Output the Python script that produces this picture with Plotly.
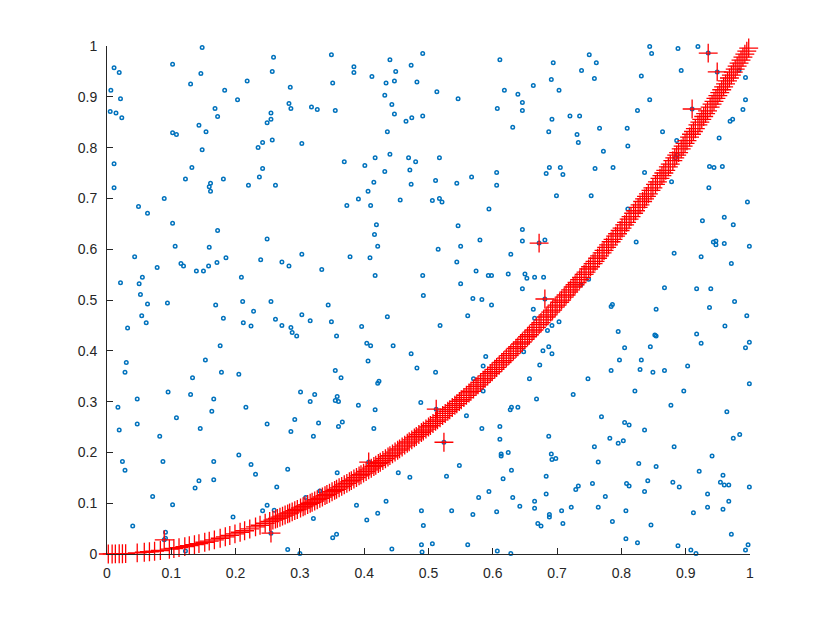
import plotly.graph_objects as go

# Blue scattered points (x, y)
blue_xy = [
(0.148,0.997),(0.011,0.957),(0.019,0.948),(0.102,0.964),(0.146,0.946),(0.130,0.925),(0.218,0.931),(0.006,0.913),(0.183,0.913),(0.021,0.896),(0.203,0.894),(0.005,0.871),(0.014,0.868),(0.023,0.859),(0.168,0.877),(0.172,0.861),(0.143,0.844),(0.154,0.831),(0.102,0.829),(0.108,0.826),(0.148,0.796),(0.235,0.800),(0.242,0.810),(0.011,0.768),(0.132,0.761),(0.122,0.738),(0.181,0.738),(0.161,0.730),(0.159,0.723),(0.161,0.714),(0.242,0.759),(0.237,0.742),(0.220,0.726),(0.011,0.721),(0.089,0.700),(0.049,0.684),(0.063,0.671),
(0.259,0.978),(0.349,0.983),(0.384,0.959),(0.384,0.948),(0.257,0.950),(0.440,0.973),(0.473,0.962),(0.491,0.985),(0.412,0.940),(0.449,0.950),(0.447,0.931),(0.434,0.927),(0.482,0.929),(0.285,0.919),(0.351,0.927),(0.432,0.903),(0.443,0.885),(0.447,0.866),(0.283,0.887),(0.286,0.877),(0.318,0.880),(0.327,0.875),(0.355,0.873),(0.255,0.868),(0.255,0.856),(0.249,0.849),(0.465,0.852),(0.474,0.859),(0.491,0.862),(0.436,0.831),(0.257,0.815),(0.303,0.808),(0.369,0.772),(0.401,0.765),(0.417,0.780),(0.440,0.787),(0.469,0.780),(0.480,0.772),(0.432,0.753),(0.471,0.756),(0.262,0.726),(0.415,0.732),(0.473,0.728),(0.406,0.714),(0.391,0.699),(0.456,0.697),(0.373,0.686),(0.410,0.686),
(0.611,0.973),(0.694,0.967),(0.738,0.952),(0.691,0.934),(0.663,0.922),(0.703,0.913),(0.513,0.910),(0.546,0.896),(0.618,0.913),(0.639,0.905),(0.646,0.889),(0.646,0.873),(0.607,0.877),(0.692,0.856),(0.720,0.862),(0.735,0.862),(0.631,0.840),(0.687,0.831),(0.731,0.826),(0.733,0.810),(0.517,0.780),(0.688,0.761),(0.705,0.761),(0.683,0.749),(0.709,0.747),(0.606,0.751),(0.567,0.742),(0.511,0.735),(0.544,0.730),(0.606,0.726),(0.699,0.705),(0.517,0.700),(0.521,0.693),(0.506,0.696),(0.594,0.679),
(0.844,0.999),(0.888,0.995),(0.919,0.999),(0.750,0.983),(0.847,0.985),(0.761,0.967),(0.893,0.952),(0.758,0.936),(0.831,0.941),(0.983,0.952),(0.993,0.938),(0.844,0.894),(0.825,0.873),(0.993,0.894),(0.989,0.875),(0.973,0.856),(0.969,0.852),(0.766,0.838),(0.809,0.838),(0.864,0.831),(0.952,0.819),(0.886,0.814),(0.772,0.793),(0.810,0.803),(0.887,0.786),(0.884,0.780),(0.759,0.759),(0.787,0.761),(0.937,0.763),(0.944,0.761),(0.957,0.763),(0.836,0.751),(0.878,0.733),(0.936,0.721),(0.753,0.705),(0.996,0.693),(0.810,0.679),
(0.102,0.651),(0.172,0.637),(0.106,0.606),(0.159,0.604),(0.043,0.585),(0.078,0.564),(0.115,0.572),(0.119,0.567),(0.171,0.574),(0.185,0.583),(0.239,0.579),(0.158,0.567),(0.139,0.557),(0.150,0.557),(0.055,0.545),(0.021,0.534),(0.050,0.532),(0.209,0.545),(0.052,0.511),(0.063,0.492),(0.094,0.494),(0.169,0.490),(0.211,0.497),(0.228,0.478),(0.054,0.469),(0.061,0.455),(0.032,0.445),(0.181,0.464),(0.212,0.455),(0.224,0.449),(0.176,0.410),(0.030,0.377),(0.153,0.382),(0.028,0.358),(0.178,0.358),(0.205,0.354),(0.133,0.347),
(0.419,0.648),(0.416,0.629),(0.421,0.606),(0.249,0.620),(0.303,0.590),(0.272,0.575),(0.283,0.567),(0.334,0.560),(0.378,0.585),(0.409,0.583),(0.417,0.548),(0.491,0.548),(0.492,0.509),(0.255,0.497),(0.344,0.490),(0.303,0.471),(0.262,0.462),(0.316,0.459),(0.349,0.457),(0.272,0.450),(0.286,0.446),(0.288,0.436),(0.295,0.429),(0.357,0.429),(0.396,0.448),(0.436,0.467),(0.404,0.415),(0.410,0.410),(0.445,0.410),(0.473,0.394),(0.406,0.380),(0.482,0.366),(0.355,0.361),(0.364,0.347),(0.423,0.340),(0.421,0.336),
(0.546,0.646),(0.646,0.639),(0.646,0.616),(0.580,0.618),(0.550,0.606),(0.515,0.600),(0.681,0.618),(0.628,0.590),(0.544,0.575),(0.574,0.557),(0.593,0.548),(0.598,0.548),(0.624,0.551),(0.650,0.551),(0.653,0.543),(0.665,0.545),(0.679,0.545),(0.550,0.532),(0.646,0.522),(0.569,0.503),(0.583,0.501),(0.598,0.490),(0.561,0.469),(0.518,0.450),(0.663,0.482),(0.665,0.464),(0.703,0.457),(0.692,0.450),(0.685,0.440),(0.687,0.408),(0.678,0.400),(0.692,0.394),(0.648,0.398),(0.589,0.389),(0.585,0.370),(0.673,0.372),(0.511,0.358),(0.570,0.345),(0.657,0.345),(0.737,0.530),
(0.926,0.656),(0.960,0.663),(0.974,0.648),(0.823,0.614),(0.943,0.614),(0.947,0.616),(0.947,0.609),(0.960,0.611),(0.999,0.606),(0.882,0.592),(0.924,0.585),(0.971,0.572),(0.749,0.541),(0.867,0.524),(0.917,0.522),(0.939,0.522),(0.976,0.497),(0.786,0.491),(0.784,0.487),(0.854,0.482),(0.937,0.485),(0.995,0.469),(0.961,0.449),(0.795,0.438),(0.852,0.431),(0.854,0.429),(0.917,0.433),(0.924,0.415),(0.999,0.417),(0.993,0.406),(0.805,0.406),(0.845,0.408),(0.797,0.382),(0.831,0.382),(0.903,0.370),(0.784,0.361),(0.829,0.363),(0.849,0.358),(0.867,0.361),(0.748,0.345),(0.999,0.335),
(0.095,0.319),(0.047,0.305),(0.130,0.314),(0.166,0.305),(0.017,0.289),(0.163,0.281),(0.216,0.289),(0.108,0.268),(0.047,0.256),(0.019,0.244),(0.145,0.247),(0.082,0.232),(0.205,0.195),(0.024,0.182),(0.087,0.182),(0.166,0.182),(0.028,0.165),(0.224,0.176),(0.231,0.157),(0.143,0.144),(0.166,0.146),(0.137,0.130),(0.071,0.113),(0.102,0.097),(0.242,0.085),(0.196,0.073),(0.040,0.055),(0.091,0.043),(0.091,0.031),(0.122,0.006),
(0.301,0.319),(0.323,0.314),(0.316,0.300),(0.358,0.310),(0.355,0.302),(0.360,0.300),(0.391,0.293),(0.417,0.284),(0.488,0.298),(0.249,0.256),(0.292,0.265),(0.329,0.258),(0.366,0.260),(0.360,0.251),(0.286,0.241),(0.321,0.232),(0.415,0.247),(0.281,0.167),(0.358,0.160),(0.453,0.160),(0.471,0.151),(0.264,0.132),(0.331,0.124),(0.309,0.111),(0.249,0.096),(0.260,0.086),(0.388,0.096),(0.434,0.104),(0.421,0.080),(0.489,0.085),(0.321,0.070),(0.404,0.067),(0.492,0.056),(0.357,0.039),(0.351,0.032),(0.489,0.018),(0.281,0.009),(0.300,0.001),(0.443,0.010),(0.490,0.004),
(0.585,0.321),(0.725,0.314),(0.668,0.305),(0.629,0.289),(0.627,0.284),(0.639,0.289),(0.559,0.272),(0.611,0.251),(0.583,0.247),(0.687,0.232),(0.611,0.226),(0.613,0.197),(0.613,0.193),(0.624,0.200),(0.691,0.197),(0.692,0.186),(0.698,0.188),(0.548,0.174),(0.629,0.165),(0.616,0.148),(0.528,0.153),(0.683,0.153),(0.733,0.134),(0.729,0.127),(0.594,0.123),(0.578,0.111),(0.631,0.111),(0.683,0.118),(0.665,0.104),(0.665,0.090),(0.642,0.094),(0.722,0.092),(0.707,0.085),(0.536,0.085),(0.569,0.078),(0.606,0.083),(0.688,0.078),(0.688,0.073),(0.670,0.060),(0.675,0.055),(0.709,0.060),(0.506,0.020),(0.561,0.018),(0.607,0.006),(0.628,0.001),
(0.821,0.321),(0.897,0.321),(0.877,0.293),(0.964,0.280),(0.769,0.270),(0.805,0.259),(0.812,0.254),(0.836,0.244),(0.782,0.228),(0.795,0.218),(0.803,0.223),(0.984,0.235),(0.974,0.228),(0.758,0.211),(0.882,0.211),(0.941,0.193),(0.764,0.181),(0.827,0.178),(0.854,0.172),(0.921,0.163),(0.958,0.155),(0.755,0.139),(0.808,0.139),(0.812,0.134),(0.841,0.144),(0.880,0.141),(0.890,0.132),(0.954,0.141),(0.960,0.136),(0.967,0.136),(0.999,0.132),(0.836,0.123),(0.775,0.113),(0.934,0.118),(0.764,0.092),(0.807,0.085),(0.934,0.092),(0.958,0.088),(0.967,0.104),(0.912,0.081),(0.786,0.064),(0.846,0.057),(0.971,0.039),(0.807,0.030),(0.825,0.022),(0.888,0.016),(0.908,0.008),(0.916,0.001),(0.997,0.018),(0.993,0.008),
]

# Red '+' points lying on the curve
red_x = [0.002,0.008,0.013,0.019,0.024,0.029,0.047,0.058,0.066,0.074,0.083,0.097,0.104,0.112,0.121,0.128,0.136,0.143,0.152,0.159,
         0.167,0.176,0.184,0.191,0.199,0.207,0.214,0.222,0.231,0.238,0.246,0.253,0.262,0.269,0.277,0.284,0.292,0.301,0.308,0.316,
         0.323,0.331,0.339,0.346,0.354,0.361,0.369,0.377,0.384,0.392,0.399,0.407,0.415,0.422,0.429,0.437,0.444,0.452,0.459,0.467,
         0.474,0.481,0.489,0.496,0.503,0.511,0.518,0.526,0.533,0.541,0.548,0.555,0.563,0.570,0.577,0.585,0.592,0.599,0.606,0.614,
         0.621,0.628,0.636,0.643,0.650,0.657,0.664,0.672,0.679,0.686,0.693,0.700,0.707,0.714,0.721,0.728,0.735,0.742,0.749,0.756,
         0.763,0.770,0.777,0.784,0.791,0.798,0.805,0.812,0.819,0.826,0.833,0.839,0.846,0.853,0.860,0.866,0.873,0.880,0.886,0.893,
         0.899,0.906,0.912,0.919,0.925,0.931,0.938,0.944,0.950,0.956,0.962,0.968,0.974,0.980,0.986,0.992,0.998]
red_y = [0.0000,0.0001,0.0002,0.0004,0.0006,0.0008,0.0022,0.0034,0.0044,0.0055,0.0069,0.0094,0.0108,0.0125,0.0146,0.0164,0.0185,0.0204,0.0231,0.0253,
         0.0279,0.0310,0.0339,0.0365,0.0396,0.0428,0.0458,0.0493,0.0534,0.0566,0.0605,0.0640,0.0686,0.0724,0.0767,0.0807,0.0853,0.0906,0.0949,0.0999,
         0.1043,0.1096,0.1149,0.1197,0.1253,0.1303,0.1362,0.1421,0.1475,0.1537,0.1592,0.1656,0.1722,0.1781,0.1840,0.1910,0.1971,0.2043,0.2107,0.2181,
         0.2247,0.2314,0.2391,0.2460,0.2530,0.2611,0.2683,0.2767,0.2841,0.2927,0.3003,0.3080,0.3170,0.3249,0.3329,0.3422,0.3505,0.3588,0.3672,0.3770,
         0.3856,0.3944,0.4045,0.4134,0.4225,0.4316,0.4409,0.4516,0.4610,0.4706,0.4802,0.4900,0.4998,0.5098,0.5198,0.5300,0.5402,0.5506,0.5610,0.5715,
         0.5822,0.5929,0.6037,0.6147,0.6257,0.6368,0.6480,0.6593,0.6708,0.6823,0.6939,0.7039,0.7157,0.7276,0.7396,0.7500,0.7621,0.7744,0.7850,0.7974,
         0.8082,0.8208,0.8317,0.8446,0.8556,0.8668,0.8798,0.8911,0.9025,0.9139,0.9254,0.9370,0.9487,0.9604,0.9722,0.9841,0.9960]

# Additional red '+' points on the curve (denser upper part)
red_x2 = [0.258,0.265,0.273,0.281,0.288,0.296,0.305,0.312,0.319,0.327,0.335,0.342,0.350,0.357,0.365,0.373,0.380,0.388,0.395,0.403,
          0.411,0.418,0.425,0.433,0.440,0.448,0.455,0.463,0.470,0.478,0.485,0.492,0.500,0.507,0.514,0.522,0.530,0.537,0.544,0.551,
          0.559,0.566,0.574,0.581,0.588,0.596,0.603,0.610,0.617,0.625,0.632,0.639,0.646,0.654,0.661,0.668,0.675,0.683,0.690,0.697,
          0.704,0.711,0.718,0.725,0.731,0.738,0.745,0.752,0.759,0.766,0.773,0.780,0.787,0.794,0.801,0.808,0.815,0.822,0.829,0.836,
          0.842,0.849,0.856,0.863,0.869,0.876,0.883,0.889,0.896,0.902,0.909,0.915,0.922,0.928,0.934,0.941,0.947,0.953,0.959,0.965,
          0.971,0.977,0.983,0.989,0.995]
red_y2 = [0.0666,0.0702,0.0745,0.0790,0.0829,0.0876,0.0930,0.0973,0.1018,0.1069,0.1122,0.1170,0.1225,0.1274,0.1332,0.1391,0.1444,0.1505,0.1560,0.1624,
          0.1689,0.1747,0.1806,0.1875,0.1936,0.2007,0.2070,0.2144,0.2209,0.2285,0.2352,0.2421,0.2500,0.2570,0.2642,0.2725,0.2809,0.2884,0.2959,0.3036,
          0.3125,0.3204,0.3295,0.3376,0.3457,0.3552,0.3636,0.3721,0.3807,0.3906,0.3994,0.4083,0.4173,0.4277,0.4369,0.4462,0.4556,0.4665,0.4761,0.4858,
          0.4956,0.5055,0.5155,0.5256,0.5344,0.5446,0.5550,0.5655,0.5761,0.5868,0.5975,0.6084,0.6194,0.6304,0.6416,0.6529,0.6642,0.6757,0.6872,0.6989,
          0.7090,0.7208,0.7327,0.7448,0.7552,0.7674,0.7797,0.7903,0.8028,0.8136,0.8263,0.8372,0.8501,0.8612,0.8724,0.8855,0.8968,0.9082,0.9197,0.9312,
          0.9428,0.9545,0.9663,0.9781,0.9900]

# Red '+' points off the curve
out_x = [0.089, 0.255, 0.407, 0.512, 0.524, 0.672, 0.681, 0.910, 0.935, 0.949]
out_y = [0.028, 0.041, 0.181, 0.285, 0.220, 0.612, 0.502, 0.876, 0.986, 0.949]

tick_vals = [0, 0.1, 0.2, 0.3, 0.4, 0.5, 0.6, 0.7, 0.8, 0.9, 1]
tick_text = ["0", "0.1", "0.2", "0.3", "0.4", "0.5", "0.6", "0.7", "0.8", "0.9", "1"]

bx = [p[0] for p in blue_xy] + out_x
by = [p[1] for p in blue_xy] + out_y

fig = go.Figure()
fig.add_trace(go.Scatter(
    x=bx, y=by, mode="markers", cliponaxis=False,
    marker=dict(symbol="circle-open", size=3.5, color="#0072BD", line=dict(width=1.5, color="#0072BD")),
    showlegend=False, hoverinfo="skip"))
fig.add_trace(go.Scatter(
    x=red_x + red_x2 + out_x, y=red_y + red_y2 + out_y, mode="markers", cliponaxis=False,
    marker=dict(symbol="cross-thin", size=13.5, color="#FF0000", line=dict(width=1.3, color="#FF0000")),
    showlegend=False, hoverinfo="skip"))

axis_common = dict(
    range=[0, 1], tickvals=tick_vals, ticktext=tick_text,
    ticks="inside", ticklen=6, tickwidth=1, tickcolor="#262626",
    showline=True, linecolor="#262626", linewidth=1,
    showgrid=False, zeroline=False, mirror=False,
    tickfont=dict(family="Liberation Sans, Arial, sans-serif", size=14, color="#262626"),
)
fig.update_xaxes(**axis_common, ticklabelstandoff=6)
fig.update_yaxes(**axis_common, ticklabelstandoff=6)

fig.update_layout(
    width=830, height=623,
    margin=dict(l=99, r=88, t=38, b=77),
    paper_bgcolor="white", plot_bgcolor="white",
)

fig.write_html("out.html")
